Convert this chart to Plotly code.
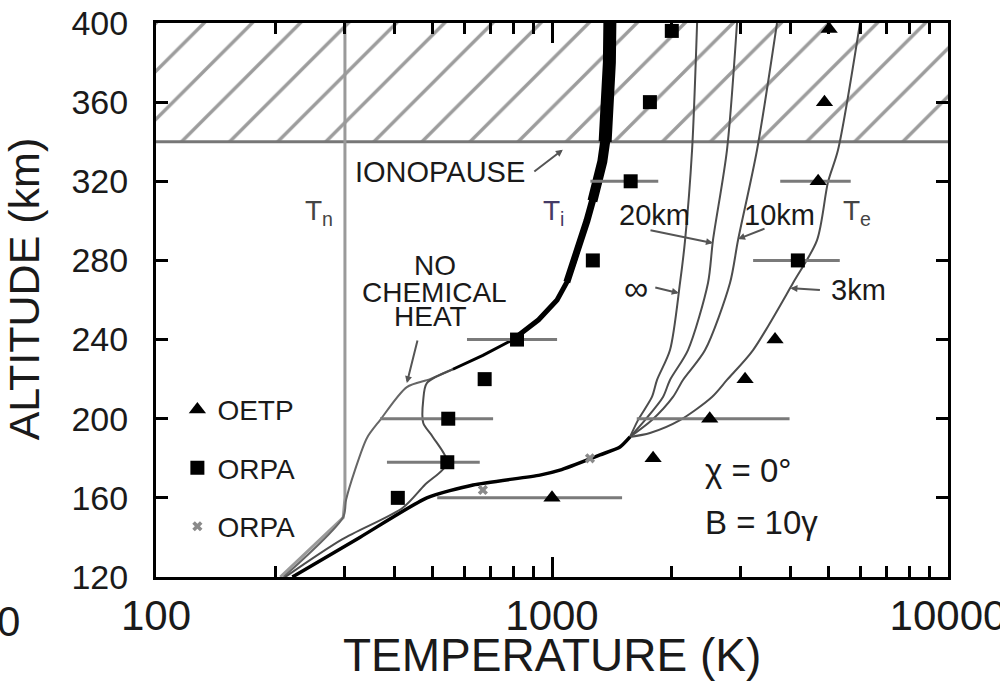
import numpy as np
import plotly.graph_objects as go

# ---------------- model profiles: altitude (km) vs temperature (K) ----------------
tn_alt = [120, 150, 160, 400]
tn_temp = [206, 297, 300, 300]

# ion temperature (thick curve, upper part)
ti_alt = [225, 232, 240, 250, 260, 269, 280, 290, 300, 310, 320, 330, 340, 360, 380, 400]
ti_temp = [562, 669, 797, 925, 1030, 1090, 1140, 1180, 1225, 1265, 1310, 1340, 1362, 1385, 1396, 1400]

# ion temperature, lower part (with chemical heating)
ti_chem_alt = [120, 139, 155, 166.5, 177.6, 190.8, 197.8, 209.5, 218, 225]
ti_chem_temp = [212, 295, 420, 477, 544, 500, 473, 473, 483, 562]

# ion temperature without chemical heating
ti_nochem_alt = [120, 150.3, 159, 174, 190.3, 199.3, 216, 220, 225]
ti_nochem_temp = [210, 297, 302, 318, 341, 368, 430, 492, 562]

# electron temperature, common lower branch
te_alt = [120, 140, 160, 166.5, 171.5, 174, 181.7, 185.7, 190.8]
te_temp = [221, 327, 483, 632, 932, 1047, 1322, 1485, 1574]

# electron temperature for different heat-flux scale lengths
te_br_alt = [190.8, 199.3, 211, 219.6, 234.7, 268.6, 290.3, 335.8, 400]
te_inf_temp = [1574, 1649, 1788, 1842, 1986, 2105, 2168, 2258, 2325]
te_20_temp = [1574, 1717, 1907, 1986, 2205, 2477, 2550, 2766, 2932]
te_10_temp = [1574, 1788, 2021, 2142, 2435, 2815, 2950, 3294, 3700]
te_3_alt = [190.8, 192.8, 199.3, 211, 219.6, 234.7, 268.6, 290.3, 319.6, 335.8, 400]
te_3_temp = [1574, 1768, 2105, 2535, 2766, 3219, 4061, 4670, 4977, 5275, 5996]

# ---------------- measurements ----------------
oetp_alt = [160, 180, 200, 220, 240, 320, 360, 397]
oetp_temp = [1000, 1800, 2502, 3073, 3658, 4700, 4876, 5010]
oetp_lo = [513, 1800, 1637, 3073, 3658, 3770, 4876, 5010]
oetp_hi = [1503, 1800, 3980, 3073, 3658, 5680, 4876, 5010]

orpa_alt = [160, 178, 200, 220, 240, 280, 320, 360, 396, 280]
orpa_temp = [408, 544, 547, 676, 816, 1268, 1580, 1767, 2007, 4177]
orpa_lo = [408, 383, 368, 676, 610, 1268, 1250, 1767, 2007, 3220]
orpa_hi = [408, 657, 710, 676, 1030, 1268, 1855, 1767, 2007, 5330]

orpa_x_alt = [164, 180]
orpa_x_temp = [669, 1247]

ionopause_alt = 340
top_alt = 400
t_range = [100, 10000]

x_ticks = [100, 1000, 10000]
x_minor = [200, 300, 400, 500, 600, 700, 800, 900,
           2000, 3000, 4000, 5000, 6000, 7000, 8000, 9000]
y_ticks = [120, 160, 200, 240, 280, 320, 360, 400]

FONT = "Liberation Sans, Arial, sans-serif"
INK = "#1a1a1a"

fig = go.Figure()

# hatched region above the ionopause
fig.add_trace(go.Scatter(
    x=[t_range[0], t_range[1], t_range[1], t_range[0], t_range[0]],
    y=[ionopause_alt, ionopause_alt, top_alt, top_alt, ionopause_alt],
    fill="toself", mode="lines", line=dict(width=0),
    fillcolor="rgba(0,0,0,0)",
    fillpattern=dict(shape="/", size=34, solidity=0.1, fgcolor="#3a3a3a", bgcolor="white"),
    showlegend=False, hoverinfo="skip"))

# ionopause boundary
fig.add_trace(go.Scatter(x=t_range, y=[ionopause_alt, ionopause_alt], mode="lines",
                         line=dict(color="#777777", width=3), showlegend=False))

# neutral temperature
fig.add_trace(go.Scatter(x=tn_temp, y=tn_alt, mode="lines",
                         line=dict(color="#9a9a9a", width=3), showlegend=False))

thin = dict(color="#4d4d4d", width=2, shape="spline", smoothing=0.8)

fig.add_trace(go.Scatter(x=ti_nochem_temp, y=ti_nochem_alt, mode="lines",
                         line=dict(color="#666666", width=2, shape="spline", smoothing=0.8),
                         showlegend=False))
fig.add_trace(go.Scatter(x=ti_chem_temp, y=ti_chem_alt, mode="lines", line=thin, showlegend=False))

for temps, alts in [(te_inf_temp, te_br_alt), (te_20_temp, te_br_alt),
                    (te_10_temp, te_br_alt), (te_3_temp, te_3_alt)]:
    fig.add_trace(go.Scatter(x=temps, y=alts, mode="lines", line=thin, showlegend=False))

fig.add_trace(go.Scatter(x=te_temp, y=te_alt, mode="lines",
                         line=dict(color="black", width=3.5, shape="spline", smoothing=0.6),
                         showlegend=False))

# thick ion temperature curve, widening with altitude; neighbouring pieces overlap by one
# point so the joints stay closed
bounds = [225, 250, 280, 320, 360, 400]
widths = [3, 5, 7, 10, 13]
for (a0, a1), w in zip(zip(bounds[:-1], bounds[1:]), widths):
    idx = [i for i, a in enumerate(ti_alt) if a0 <= a <= a1]
    lo_i = max(idx[0] - 1, 0)
    hi_i = min(idx[-1] + 1, len(ti_alt) - 1)
    sel = range(lo_i, hi_i + 1)
    fig.add_trace(go.Scatter(x=[ti_temp[i] for i in sel], y=[ti_alt[i] for i in sel],
                             mode="lines", line=dict(color="black", width=w, shape="linear"),
                             showlegend=False))


def err(vals, lo, hi):
    return ([h - v for v, h in zip(vals, hi)], [v - l for v, l in zip(vals, lo)])


ep, em = err(oetp_temp, oetp_lo, oetp_hi)
fig.add_trace(go.Scatter(
    x=oetp_temp, y=oetp_alt, mode="markers", name="OETP", legendgroup="a",
    marker=dict(symbol="triangle-up", size=15, color="black"),
    error_x=dict(type="data", array=ep, arrayminus=em, color="#7a7a7a", thickness=3, width=0)))

ep, em = err(orpa_temp, orpa_lo, orpa_hi)
fig.add_trace(go.Scatter(
    x=orpa_temp, y=orpa_alt, mode="markers", name="ORPA", legendgroup="b",
    marker=dict(symbol="square", size=14, color="black"),
    error_x=dict(type="data", array=ep, arrayminus=em, color="#7a7a7a", thickness=3, width=0)))

fig.add_trace(go.Scatter(
    x=orpa_x_temp, y=orpa_x_alt, mode="markers", name="ORPA", legendgroup="c",
    marker=dict(symbol="x", size=9, color="#8a8a8a")))


def L(t):
    return float(np.log10(t))


def label(text, t, h, size=29, color=INK, xanchor="center"):
    fig.add_annotation(x=L(t), y=h, text=text, showarrow=False, xanchor=xanchor,
                       font=dict(family=FONT, size=size, color=color))


def pointer(t, h, ax, ay):
    fig.add_annotation(x=L(t), y=h, text="", showarrow=True, ax=ax, ay=ay,
                       arrowhead=2, arrowsize=0.7, arrowwidth=2, arrowcolor="#555555")


label("IONOPAUSE", 521, 324.7)
pointer(1065, 336, -30, 23)
label("T<sub>n</sub>", 258, 304, size=28, color="#444")
label("T<sub>i</sub>", 1007, 304.4, size=28, color="#443a66")
label("T<sub>e</sub>", 5900, 304, size=28, color="#444")
label("20km", 1820, 303)
pointer(2550, 288.8, -64, -13)
label("10km", 3743, 303)
pointer(2950, 290.8, 28, -11)
label("∞", 1630, 266, size=34)
pointer(2090, 263.5, -25, -6)
label("3km", 5928, 265)
pointer(4000, 266, 31, 2)
label("NO", 506, 277.5, size=28)
label("CHEMICAL", 506, 264, size=28)
label("HEAT", 492, 251.5, size=28)
pointer(430, 218, 11, -44)
label("χ = 0°", 2406, 174, size=33, xanchor="left")
label("B = 10γ", 2406, 147.8, size=33, xanchor="left")

# axis titles
fig.add_annotation(xref="paper", yref="paper", x=0.5, y=0, yshift=-50, yanchor="top",
                   text="TEMPERATURE (K)", showarrow=False,
                   font=dict(family=FONT, size=46, color=INK))
fig.add_annotation(xref="paper", yref="paper", x=-0.199, y=0.52, textangle=-90,
                   text="ALTITUDE (km)", showarrow=False,
                   font=dict(family=FONT, size=43, color=INK))
fig.add_annotation(xref="paper", yref="paper", x=-0.203, y=-0.08, xanchor="left",
                   yanchor="middle", text="0", showarrow=False,
                   font=dict(family=FONT, size=42, color=INK))

fig.update_xaxes(
    type="log", range=[L(t_range[0]), L(t_range[1])],
    tickmode="array", tickvals=x_ticks, ticktext=[str(v) for v in x_ticks],
    ticks="inside", ticklen=20, tickwidth=3, tickcolor="black",
    minor=dict(tickmode="array", tickvals=x_minor, ticks="inside", ticklen=11,
               tickwidth=2.5, tickcolor="black", showgrid=False),
    showline=True, linewidth=3, linecolor="black", mirror="allticks",
    showgrid=False, zeroline=False, ticklabeloverflow="allow", automargin=False,
    tickfont=dict(family=FONT, size=42, color=INK))
fig.update_yaxes(
    range=[120, 400], tickmode="array", tickvals=y_ticks,
    ticks="inside", ticklen=12, tickwidth=3, tickcolor="black",
    showline=True, linewidth=3, linecolor="black", mirror="allticks",
    showgrid=False, zeroline=False, ticklabelstandoff=18, automargin=False,
    tickfont=dict(family=FONT, size=34, color=INK))

fig.update_layout(
    width=1000, height=683,
    margin=dict(l=156, r=52, t=23, b=106),
    paper_bgcolor="white", plot_bgcolor="white",
    legend=dict(x=0.027, y=0.347, xanchor="left", yanchor="top",
                bgcolor="rgba(0,0,0,0)", tracegroupgap=19,
                font=dict(family=FONT, size=28, color=INK)),
)

fig.write_html("out.html")
